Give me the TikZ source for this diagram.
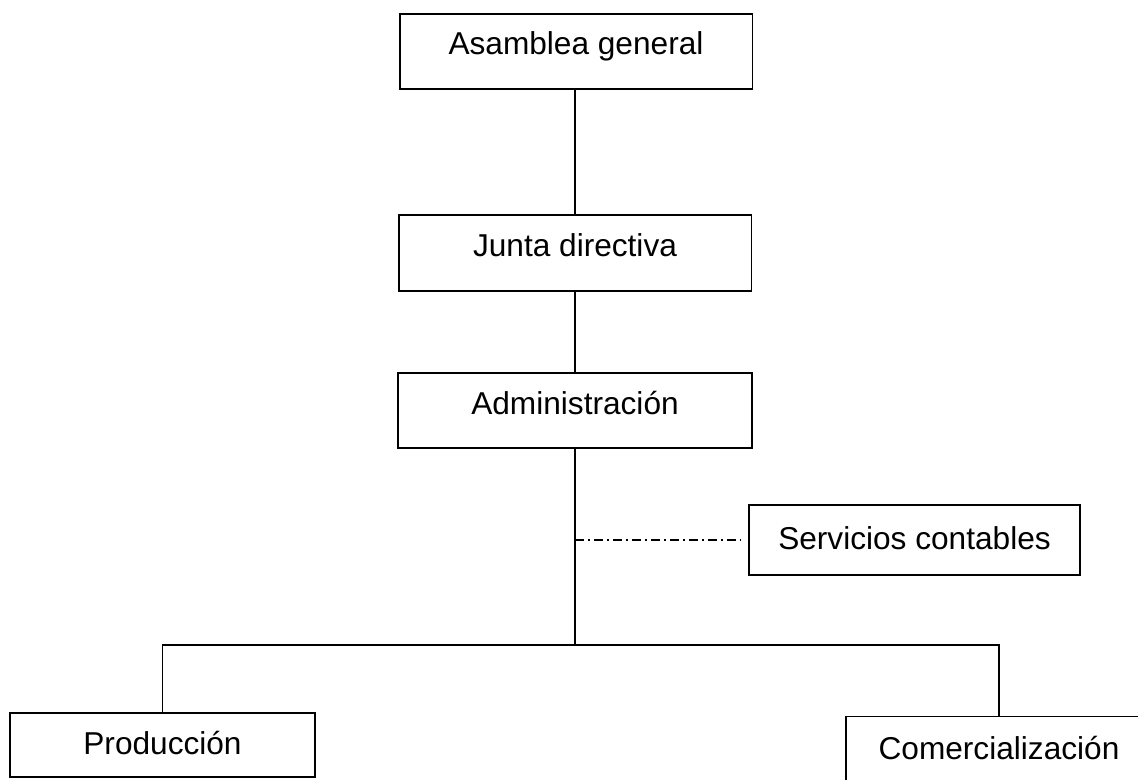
\documentclass[tikz,border=0pt]{standalone}
\usepackage{fontspec}
\setmainfont{Liberation Sans}
\tikzset{
  caja/.style={draw,line width=1.1pt,font=\fontsize{18}{20}\selectfont,inner sep=0pt,text height=0.46cm},
  alta/.style={caja,text depth=0.32cm},
  baja/.style={caja,text depth=0.08cm},
  linea/.style={line width=1pt},
  punteado/.style={line width=0.9pt,dash pattern=on 0.18cm off 0.08cm on 0.04cm off 0.08cm}
}
\begin{document}
\begin{tikzpicture}[x=0.02cm,y=-0.02cm]
\useasboundingbox (0,0) rectangle (1138,780);
% cajas
\node[alta,minimum width=7.06cm,minimum height=1.5cm] (asamblea) at (576,51.5) {Asamblea general};
\node[alta,minimum width=7.06cm,minimum height=1.52cm] (junta) at (575,253) {Junta directiva};
\node[alta,minimum width=7.08cm,minimum height=1.5cm] (admin) at (575,410.5) {Administración};
\node[baja,minimum width=6.62cm,minimum height=1.4cm] (servicios) at (914.5,540) {Servicios contables};
\node[baja,minimum width=6.1cm,minimum height=1.28cm] (produccion) at (162.5,745) {Producción};
\node[baja,minimum width=6.12cm,minimum height=1.34cm] (comercial) at (999,750) {Comercialización};
% puntos de la línea central
\coordinate (enlace) at (575,540);
\coordinate (rama) at (575,645);
% conexiones
\draw[linea] (asamblea.south -| junta.north) -- (junta);
\draw[linea] (junta) -- (admin);
\draw[linea] (admin) -- (rama);
\draw[linea] (produccion) |- (rama) -| (comercial);
% asesoría externa
\draw[punteado,shorten >=4pt] (enlace) -- (servicios.west);
\end{tikzpicture}
\end{document}
